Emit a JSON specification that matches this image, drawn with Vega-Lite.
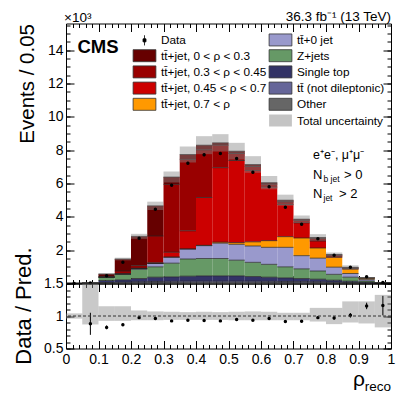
{
"$schema": "https://vega.github.io/schema/vega-lite/v6.json",
"padding": {"left": 12, "top": 8.5, "right": 5, "bottom": 0},
"spacing": 0,
"bounds": "flush",
"config": {
  "font": "Liberation Sans",
  "view": {"stroke": "black", "strokeWidth": 1},
  "axis": {"grid": false, "domain": false, "labelFlush": false, "labelOverlap": false, "tickColor": "black", "labelColor": "black", "titleColor": "black", "titleFontWeight": "normal", "tickWidth": 1},
  "text": {"color": "black"}
},
"datasets": {
  "bins": [
    {"b":0,"e":0.05,"c":0.025,"other":0,"ttnd":0,"st":0.002,"z":0.006,"tt0":0.001,"j4":0,"j3":0,"j2":0.001,"j1":0.002,"d":0.008,"dl":0.005,"dh":0.011,"ulo":0.009,"uhi":0.015,"r":null,"rl":null,"rh":null,"blo":0.96,"bhi":1.04},
    {"b":0.05,"e":0.1,"c":0.075,"other":0.001,"ttnd":0.002,"st":0.004,"z":0.02,"tt0":0.002,"j4":0,"j3":0,"j2":0.003,"j1":0.008,"d":0.035,"dl":0.029,"dh":0.041,"ulo":0.02,"uhi":0.06,"r":0.88,"rl":0.71,"rh":1.05,"blo":0.87,"bhi":1.5},
    {"b":0.1,"e":0.15,"c":0.125,"other":0.03,"ttnd":0.03,"st":0.12,"z":0.2,"tt0":0,"j4":0,"j3":0,"j2":0.05,"j1":0.14,"d":0.47,"dl":0.448,"dh":0.492,"ulo":0.53,"uhi":0.61,"r":0.825,"rl":0.795,"rh":0.855,"blo":0.925,"bhi":1.15},
    {"b":0.15,"e":0.2,"c":0.175,"other":0.04,"ttnd":0.04,"st":0.14,"z":0.33,"tt0":0.02,"j4":0,"j3":0.01,"j2":0.17,"j1":0.72,"d":1.27,"dl":1.234,"dh":1.306,"ulo":1.39,"uhi":1.55,"r":0.865,"rl":0.845,"rh":0.885,"blo":0.925,"bhi":1.15},
    {"b":0.2,"e":0.25,"c":0.225,"other":0.05,"ttnd":0.05,"st":0.2,"z":0.55,"tt0":0.05,"j4":0,"j3":0.02,"j2":0.15,"j1":1.76,"d":2.72,"dl":2.668,"dh":2.772,"ulo":2.68,"uhi":2.98,"r":0.975,"rl":0.96,"rh":0.99,"blo":0.935,"bhi":1.085},
    {"b":0.25,"e":0.3,"c":0.275,"other":0.06,"ttnd":0.06,"st":0.26,"z":0.62,"tt0":0.2,"j4":0,"j3":0.05,"j2":1.6,"j1":1.81,"d":4.45,"dl":4.384,"dh":4.516,"ulo":4.41,"uhi":4.91,"r":0.96,"rl":0.948,"rh":0.972,"blo":0.935,"bhi":1.07},
    {"b":0.3,"e":0.35,"c":0.325,"other":0.06,"ttnd":0.07,"st":0.27,"z":0.82,"tt0":0.36,"j4":0,"j3":0.3,"j2":4.07,"j1":0.44,"d":5.9,"dl":5.824,"dh":5.976,"ulo":6.06,"uhi":6.72,"r":0.925,"rl":0.915,"rh":0.935,"blo":0.94,"bhi":1.065},
    {"b":0.35,"e":0.4,"c":0.375,"other":0.07,"ttnd":0.07,"st":0.3,"z":1.03,"tt0":0.6,"j4":0,"j3":1.09,"j2":4.29,"j1":0.29,"d":7.22,"dl":7.135,"dh":7.305,"ulo":7.26,"uhi":8.22,"r":0.935,"rl":0.925,"rh":0.945,"blo":0.94,"bhi":1.06},
    {"b":0.4,"e":0.45,"c":0.425,"other":0.07,"ttnd":0.07,"st":0.32,"z":1.04,"tt0":0.77,"j4":0.02,"j3":2.87,"j2":2.86,"j1":0.28,"d":7.72,"dl":7.632,"dh":7.808,"ulo":7.76,"uhi":8.84,"r":0.93,"rl":0.92,"rh":0.94,"blo":0.94,"bhi":1.065},
    {"b":0.45,"e":0.5,"c":0.475,"other":0.07,"ttnd":0.07,"st":0.32,"z":1.04,"tt0":0.92,"j4":0.06,"j3":4.47,"j2":1.35,"j1":0.14,"d":7.8,"dl":7.712,"dh":7.888,"ulo":7.92,"uhi":8.96,"r":0.925,"rl":0.915,"rh":0.935,"blo":0.94,"bhi":1.06},
    {"b":0.5,"e":0.55,"c":0.525,"other":0.07,"ttnd":0.07,"st":0.32,"z":0.94,"tt0":0.95,"j4":0.1,"j3":4.93,"j2":0.42,"j1":0.14,"d":7.5,"dl":7.414,"dh":7.586,"ulo":7.44,"uhi":8.44,"r":0.945,"rl":0.935,"rh":0.955,"blo":0.935,"bhi":1.065},
    {"b":0.55,"e":0.6,"c":0.575,"other":0.07,"ttnd":0.07,"st":0.28,"z":0.85,"tt0":0.98,"j4":0.25,"j3":4.28,"j2":0.24,"j1":0.12,"d":6.67,"dl":6.588,"dh":6.752,"ulo":6.64,"uhi":7.64,"r":0.935,"rl":0.925,"rh":0.945,"blo":0.935,"bhi":1.07},
    {"b":0.6,"e":0.65,"c":0.625,"other":0.06,"ttnd":0.07,"st":0.25,"z":0.77,"tt0":1.02,"j4":0.4,"j3":3.21,"j2":0.18,"j1":0.09,"d":5.81,"dl":5.734,"dh":5.886,"ulo":5.65,"uhi":6.45,"r":0.96,"rl":0.948,"rh":0.972,"blo":0.935,"bhi":1.065},
    {"b":0.65,"e":0.7,"c":0.675,"other":0.06,"ttnd":0.06,"st":0.22,"z":0.66,"tt0":1.17,"j4":0.64,"j3":1.93,"j2":0.16,"j1":0.1,"d":4.58,"dl":4.512,"dh":4.648,"ulo":4.67,"uhi":5.33,"r":0.915,"rl":0.902,"rh":0.928,"blo":0.935,"bhi":1.05},
    {"b":0.7,"e":0.75,"c":0.725,"other":0.05,"ttnd":0.06,"st":0.19,"z":0.58,"tt0":0.79,"j4":1.06,"j3":0.91,"j2":0.15,"j1":0.07,"d":3.55,"dl":3.49,"dh":3.61,"ulo":3.64,"uhi":4.08,"r":0.92,"rl":0.905,"rh":0.935,"blo":0.935,"bhi":1.05},
    {"b":0.75,"e":0.8,"c":0.775,"other":0.05,"ttnd":0.05,"st":0.16,"z":0.49,"tt0":0.77,"j4":0.61,"j3":0.42,"j2":0.14,"j1":0.07,"d":2.69,"dl":2.638,"dh":2.742,"ulo":2.56,"uhi":2.96,"r":0.975,"rl":0.955,"rh":0.995,"blo":0.915,"bhi":1.125},
    {"b":0.8,"e":0.85,"c":0.825,"other":0.04,"ttnd":0.04,"st":0.12,"z":0.35,"tt0":0.43,"j4":0.59,"j3":0.07,"j2":0.06,"j1":0.04,"d":1.69,"dl":1.649,"dh":1.731,"ulo":1.62,"uhi":1.86,"r":0.97,"rl":0.945,"rh":0.995,"blo":0.875,"bhi":1.125},
    {"b":0.85,"e":0.9,"c":0.875,"other":0.03,"ttnd":0.03,"st":0.08,"z":0.24,"tt0":0.22,"j4":0.26,"j3":0.04,"j2":0.04,"j1":0.03,"d":0.98,"dl":0.949,"dh":1.011,"ulo":0.85,"uhi":1.09,"r":1.01,"rl":0.975,"rh":1.045,"blo":0.9,"bhi":1.225},
    {"b":0.9,"e":0.95,"c":0.925,"other":0.02,"ttnd":0.02,"st":0.04,"z":0.07,"tt0":0.1,"j4":0.07,"j3":0.01,"j2":0.01,"j1":0.01,"d":0.4,"dl":0.38,"dh":0.42,"ulo":0.31,"uhi":0.39,"r":1.155,"rl":1.105,"rh":1.205,"blo":0.885,"bhi":1.225},
    {"b":0.95,"e":1,"c":0.975,"other":0.003,"ttnd":0.003,"st":0.004,"z":0.015,"tt0":0.01,"j4":0.01,"j3":0.002,"j2":0.002,"j1":0.001,"d":0.058,"dl":0.05,"dh":0.066,"ulo":0.04,"uhi":0.06,"r":1.16,"rl":1.01,"rh":1.31,"blo":0.825,"bhi":1.325}
  ],
  "names": [
    {"k":"other","label":"Other"},
    {"k":"ttnd","label":"tt\u0304 (not dileptonic)"},
    {"k":"st","label":"Single top"},
    {"k":"z","label":"Z+jets"},
    {"k":"tt0","label":"tt\u0304+0 jet"},
    {"k":"j4","label":"tt\u0304+jet, 0.7 < ρ"},
    {"k":"j3","label":"tt\u0304+jet, 0.45 < ρ < 0.7"},
    {"k":"j2","label":"tt\u0304+jet, 0.3 < ρ < 0.45"},
    {"k":"j1","label":"tt\u0304+jet, 0 < ρ < 0.3"}
  ],
  "one": [{}]
},
"resolve": {"scale": {"x": "independent", "y": "independent", "color": "independent"}, "legend": {"color": "independent"}},
"vconcat": [
  {
    "width": 325, "height": 260,
    "data": {"name": "bins"},
    "resolve": {"axis": {"x": "independent", "y": "independent"}},
    "layer": [
      {
        "transform": [
          {"fold": ["other","ttnd","st","z","tt0","j4","j3","j2","j1"], "as": ["comp","v"]},
          {"lookup": "comp", "from": {"data": {"name": "names"}, "key": "k", "fields": ["label"]}},
          {"stack": "v", "groupby": ["b"], "as": ["s0","s1"]}
        ],
        "mark": {"type": "rect"},
        "encoding": {
          "x": {"field": "b", "type": "quantitative", "scale": {"domain": [0,1], "nice": false, "zero": false}, "axis": {"orient": "bottom", "labels": false, "tickSize": -8, "tickCount": 10, "title": null}},
          "x2": {"field": "e"},
          "y": {"field": "s0", "type": "quantitative", "scale": {"domain": [0,15.6], "nice": false, "zero": false}, "axis": {"orient": "left", "ticks": false, "values": [2,4,6,8,10,12,14], "labelFontSize": 14, "labelPadding": 3, "title": "Events / 0.05", "titleFontSize": 20.5, "titleAnchor": "end", "titlePadding": 10}},
          "y2": {"field": "s1"},
          "color": {
            "field": "label", "type": "nominal",
            "scale": {
              "domain": ["Data","tt\u0304+jet, 0 < ρ < 0.3","tt\u0304+jet, 0.3 < ρ < 0.45","tt\u0304+jet, 0.45 < ρ < 0.7","tt\u0304+jet, 0.7 < ρ"," ","tt\u0304+0 jet","Z+jets","Single top","tt\u0304 (not dileptonic)","Other","Total uncertainty"],
              "range": ["#000000","#660000","#990000","#cc0000","#ff9900","transparent","#9999cc","#669966","#333366","#666699","#666666","#c4c4c4"]
            },
            "legend": {
              "orient": "none", "legendX": 72, "legendY": 9.5, "columns": 2, "title": null,
              "values": ["Data","tt\u0304+jet, 0 < ρ < 0.3","tt\u0304+jet, 0.3 < ρ < 0.45","tt\u0304+jet, 0.45 < ρ < 0.7","tt\u0304+jet, 0.7 < ρ"," ","tt\u0304+0 jet","Z+jets","Single top","tt\u0304 (not dileptonic)","Other","Total uncertainty"],
              "symbolSize": 144, "symbolType": "M-1.9,-1H1.9V1H-1.9Z",
              "symbolStrokeColor": "#333333", "symbolStrokeWidth": 0.8,
              "labelFontSize": 11.8, "labelOffset": 10, "labelLimit": 0, "labelColor": "black",
              "rowPadding": -0.8, "columnPadding": 0, "padding": 0,
              "encode": {"symbols": {"update": {
                "shape": {"signal": "datum.value === 'Data' ? 'M0,-0.85V0.85M-0.25,-0.25H0.25V0.25H-0.25Z' : 'M-1.9,-1H1.9V1H-1.9Z'"},
                "stroke": {"signal": "(datum.value === ' ' || datum.value === 'Total uncertainty') ? 'transparent' : (datum.value === 'Data' ? 'black' : '#333333')"}
              }}}
            }
          }
        }
      },
      {
        "transform": [
          {"fold": ["other","ttnd","st","z","tt0","j4","j3","j2","j1"], "as": ["comp","v"]},
          {"stack": "v", "groupby": ["b"], "as": ["s0","s1"]}
        ],
        "mark": {"type": "rule", "color": "#222222", "strokeWidth": 0.7},
        "encoding": {
          "x": {"field": "b", "type": "quantitative", "axis": {"orient": "bottom", "labels": false, "tickSize": -4, "tickCount": 50, "title": null}},
          "x2": {"field": "e"},
          "y": {"field": "s1", "type": "quantitative", "axis": {"orient": "left", "labels": false, "tickSize": -8, "values": [2,4,6,8,10,12,14], "title": null}}
        }
      },
      {
        "mark": {"type": "rect", "color": "#888888", "opacity": 0.45},
        "encoding": {
          "x": {"field": "b", "type": "quantitative", "axis": {"orient": "top", "labels": false, "tickSize": -8, "tickCount": 10, "title": null}},
          "x2": {"field": "e"},
          "y": {"field": "ulo", "type": "quantitative", "axis": {"orient": "left", "labels": false, "tickSize": -4, "tickCount": 31, "title": null}},
          "y2": {"field": "uhi"}
        }
      },
      {
        "mark": {"type": "circle", "color": "black", "size": 12, "opacity": 1},
        "encoding": {
          "x": {"field": "c", "type": "quantitative", "axis": {"orient": "top", "labels": false, "tickSize": -4, "tickCount": 50, "title": null}},
          "y": {"field": "d", "type": "quantitative", "axis": {"orient": "right", "labels": false, "tickSize": -8, "values": [2,4,6,8,10,12,14], "title": null}}
        }
      },
      {
        "mark": {"type": "rule", "color": "black", "strokeWidth": 1},
        "encoding": {
          "x": {"field": "c", "type": "quantitative", "axis": null},
          "y": {"field": "dl", "type": "quantitative", "axis": {"orient": "right", "labels": false, "tickSize": -4, "tickCount": 31, "title": null}},
          "y2": {"field": "dh"}
        }
      },
      {
        "data": {"name": "one"},
        "mark": {"type": "text", "text": "CMS", "fontSize": 18.5, "fontWeight": "bold", "align": "left", "baseline": "alphabetic"},
        "encoding": {"x": {"datum": 0.035, "type": "quantitative", "axis": null}, "y": {"datum": 13.85, "type": "quantitative", "axis": null}}
      },
      {
        "data": {"name": "one"},
        "mark": {"type": "text", "text": "×10³", "fontSize": 13.5, "align": "left", "baseline": "alphabetic", "dx": -2, "dy": -2},
        "encoding": {"x": {"datum": 0, "type": "quantitative", "axis": null}, "y": {"datum": 15.6, "type": "quantitative", "axis": null}}
      },
      {
        "data": {"name": "one"},
        "mark": {"type": "text", "text": "36.3 fb⁻¹ (13 TeV)", "fontSize": 13.5, "align": "right", "baseline": "alphabetic", "dy": -3},
        "encoding": {"x": {"datum": 1, "type": "quantitative", "axis": null}, "y": {"datum": 15.6, "type": "quantitative", "axis": null}}
      },
      {
        "data": {"name": "one"},
        "mark": {"type": "text", "text": "e⁺e⁻, μ⁺μ⁻", "fontSize": 12.5, "align": "left", "baseline": "alphabetic"},
        "encoding": {"x": {"datum": 0.76, "type": "quantitative", "axis": null}, "y": {"datum": 7.46, "type": "quantitative", "axis": null}}
      },
      {
        "data": {"name": "one"},
        "mark": {"type": "text", "text": "N", "fontSize": 13, "align": "left", "baseline": "alphabetic"},
        "encoding": {"x": {"datum": 0.76, "type": "quantitative", "axis": null}, "y": {"datum": 6.3, "type": "quantitative", "axis": null}}
      },
      {
        "data": {"name": "one"},
        "mark": {"type": "text", "text": "b jet", "fontSize": 8.5, "align": "left", "baseline": "alphabetic", "dx": 10.5, "dy": 3},
        "encoding": {"x": {"datum": 0.76, "type": "quantitative", "axis": null}, "y": {"datum": 6.3, "type": "quantitative", "axis": null}}
      },
      {
        "data": {"name": "one"},
        "mark": {"type": "text", "text": "> 0", "fontSize": 13, "align": "left", "baseline": "alphabetic", "dx": 31},
        "encoding": {"x": {"datum": 0.76, "type": "quantitative", "axis": null}, "y": {"datum": 6.3, "type": "quantitative", "axis": null}}
      },
      {
        "data": {"name": "one"},
        "mark": {"type": "text", "text": "N", "fontSize": 13, "align": "left", "baseline": "alphabetic"},
        "encoding": {"x": {"datum": 0.76, "type": "quantitative", "axis": null}, "y": {"datum": 5.14, "type": "quantitative", "axis": null}}
      },
      {
        "data": {"name": "one"},
        "mark": {"type": "text", "text": "jet", "fontSize": 8.5, "align": "left", "baseline": "alphabetic", "dx": 10.5, "dy": 3},
        "encoding": {"x": {"datum": 0.76, "type": "quantitative", "axis": null}, "y": {"datum": 5.14, "type": "quantitative", "axis": null}}
      },
      {
        "data": {"name": "one"},
        "mark": {"type": "text", "text": "> 2", "fontSize": 13, "align": "left", "baseline": "alphabetic", "dx": 26},
        "encoding": {"x": {"datum": 0.76, "type": "quantitative", "axis": null}, "y": {"datum": 5.14, "type": "quantitative", "axis": null}}
      }
    ]
  },
  {
    "width": 325, "height": 65,
    "data": {"name": "bins"},
    "resolve": {"axis": {"x": "independent", "y": "independent"}},
    "layer": [
      {
        "mark": {"type": "rect", "color": "#888888", "opacity": 0.45},
        "encoding": {
          "x": {"field": "b", "type": "quantitative", "scale": {"domain": [0,1], "nice": false, "zero": false}, "axis": {"orient": "bottom", "ticks": false, "values": [0,0.1,0.2,0.3,0.4,0.5,0.6,0.7,0.8,0.9,1], "format": "~g", "labelFontSize": 14, "labelPadding": 4, "title": null}},
          "x2": {"field": "e"},
          "y": {"field": "blo", "type": "quantitative", "scale": {"domain": [0.5,1.5], "nice": false, "zero": false}, "axis": {"orient": "left", "ticks": false, "values": [0.5,1,1.5], "format": "~g", "labelFontSize": 14, "labelPadding": 3, "title": "Data / Pred.", "titleFontSize": 22, "titlePadding": 8, "titleY": 22}},
          "y2": {"field": "bhi"}
        }
      },
      {
        "mark": {"type": "circle", "color": "black", "size": 12, "opacity": 1},
        "encoding": {
          "x": {"field": "c", "type": "quantitative", "axis": {"orient": "bottom", "labels": false, "tickSize": -8, "tickCount": 10, "title": null}},
          "y": {"field": "r", "type": "quantitative", "axis": {"orient": "left", "labels": false, "tickSize": -8, "values": [0.5,1,1.5], "title": null}}
        }
      },
      {
        "mark": {"type": "rule", "color": "black", "strokeWidth": 1},
        "encoding": {
          "x": {"field": "c", "type": "quantitative", "axis": {"orient": "bottom", "labels": false, "tickSize": -4, "tickCount": 50, "title": null}},
          "y": {"field": "rl", "type": "quantitative", "axis": {"orient": "left", "labels": false, "tickSize": -4, "tickCount": 10, "title": null}},
          "y2": {"field": "rh"}
        }
      },
      {
        "data": {"name": "one"},
        "mark": {"type": "rule", "color": "#333333", "strokeWidth": 1, "strokeDash": [3,2]},
        "encoding": {
          "y": {"datum": 1, "type": "quantitative", "axis": {"orient": "right", "labels": false, "tickSize": -8, "values": [0.5,1,1.5], "title": null}}
        }
      },
      {
        "data": {"name": "one"},
        "mark": {"type": "text", "text": "ρ", "fontSize": 21, "align": "right", "baseline": "alphabetic", "dx": -26, "dy": 37},
        "encoding": {
          "x": {"datum": 1, "type": "quantitative", "axis": {"orient": "top", "labels": false, "tickSize": -8, "tickCount": 10, "title": null}},
          "y": {"datum": 0.5, "type": "quantitative", "axis": {"orient": "right", "labels": false, "tickSize": -4, "tickCount": 10, "title": null}}
        }
      },
      {
        "data": {"name": "one"},
        "mark": {"type": "text", "text": "reco", "fontSize": 13.5, "align": "right", "baseline": "alphabetic", "dy": 42},
        "encoding": {
          "x": {"datum": 1, "type": "quantitative", "axis": {"orient": "top", "labels": false, "tickSize": -4, "tickCount": 50, "title": null}},
          "y": {"datum": 0.5, "type": "quantitative", "axis": null}
        }
      }
    ]
  }
]
}
